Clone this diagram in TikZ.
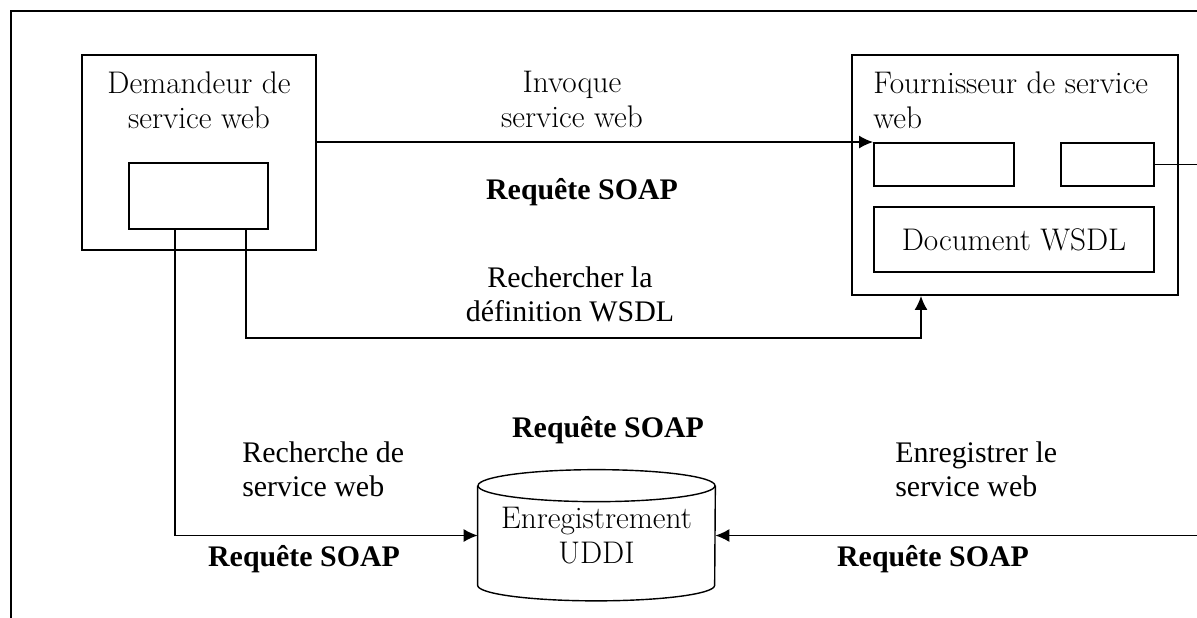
\documentclass[tikz,border=0pt]{standalone}
\usepackage{fontspec}
\newfontfamily\timesfont{Liberation Serif}
\usetikzlibrary{arrows.meta}

\begin{document}
\begin{tikzpicture}[x = .2mm, y = -.2mm,
    box/.style = {draw, line width = 1.1pt, inner sep = 0pt},
    boxtitle/.style = {font = \fontsize{17.8}{20}\selectfont, inner sep = 0pt},
    note/.style = {font = \timesfont\fontsize{17}{19.5}\selectfont, inner sep = 0pt},
    soap/.style = {font = \timesfont\bfseries\fontsize{17}{19.5}\selectfont, inner sep = 0pt},
    flow/.style = {line width = .8pt, -{Latex[length = 2.8mm, width = 2.6mm]}}]

    \useasboundingbox (0, 0) rectangle (1197, 617);
    \clip (0, 0) rectangle (1197, 617);

    % outer frame (runs off the page on the right and bottom)
    \draw [line width = 1.1pt] (11, 11) rectangle (1240, 650);

    % requester
    \node [box, minimum width = 46.8mm, minimum height = 39mm] (client) at (199, 152.5) {};
    \node [boxtitle, align = center] (client title) at (199, 100.5) {Demandeur de\\service web};
    \node [box, minimum width = 27.8mm, minimum height = 13.2mm] (stub) at (198.5, 196) {};

    % provider
    \node [box, minimum width = 65.2mm, minimum height = 48mm] (provider) at (1015, 175) {};
    \node [boxtitle, align = left, anchor = west] (provider title) at (873, 100.5) {Fournisseur de service\\web};
    \node [box, minimum width = 28mm, minimum height = 8.6mm] (port) at (944, 164.5) {};
    \node [box, minimum width = 18.6mm, minimum height = 8.6mm] (publisher) at (1107.5, 164.5) {};
    \node [box, boxtitle, minimum width = 56mm, minimum height = 13mm] (wsdl) at (1014, 239.5) {Document WSDL};

    % registry
    \node [boxtitle, align = center, minimum width = 47.4mm, minimum height = 19.8mm] (uddi) at (596.5, 535.5) {Enregistrement\\UDDI};
    \draw [line width = .8pt] (uddi.north west) -- (uddi.south west)
        arc [start angle = 180, end angle = 360, x radius = 23.7mm, y radius = 3.1mm] -- (uddi.north east);
    \draw [line width = .8pt] (uddi.north) ellipse [x radius = 23.7mm, y radius = 3.2mm];

    % calls
    \coordinate (bend) at (1240, 164.5);
    \draw [flow] (client.east |- port.north west) -- (port.north west);
    \draw [flow] ([xshift = -4.6mm]stub.south east) -- ++(0, 108) -| ([xshift = -18.8mm]provider.south);
    \draw [flow] ([xshift = 9.4mm]stub.south west) |- (uddi.west);
    \draw [flow] (publisher.east) -- (bend) |- (uddi.east);

    % labels
    \node [boxtitle, align = center] (invoke) at (572, 99.5) {Invoque\\service web};
    \node [soap] (invoke soap) at (582, 192) {Requête SOAP};
    \node [note, align = center] (lookup) at (570, 294) {Rechercher la\\définition WSDL};
    \node [soap] (lookup soap) at (608, 430) {Requête SOAP};
    \node [note, align = left, anchor = west] (search) at (242, 469) {Recherche de\\service web};
    \node [soap] (search soap) at (304, 559) {Requête SOAP};
    \node [note, align = left, anchor = west] (register) at (895, 469) {Enregistrer le\\service web};
    \node [soap] (register soap) at (933, 559) {Requête SOAP};
\end{tikzpicture}
\end{document}
